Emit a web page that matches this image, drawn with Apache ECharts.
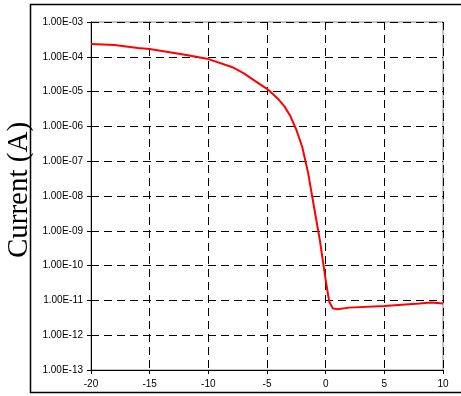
<!DOCTYPE html>
<html>
<head>
<meta charset="utf-8">
<script src="https://cdn.jsdelivr.net/npm/echarts@6/dist/echarts.min.js"></script>
<style>
html,body{margin:0;padding:0;background:#fff;}
#chart{width:461px;height:396px;}
</style>
</head>
<body>
<div id="chart"></div>
<script>
// Data (voltage in V, current in A)
var voltage = [-20, -18, -16, -15, -12, -10, -8, -7, -6, -5, -4, -3.5, -3, -2.5, -2, -1.5, -1, -0.5, 0, 0.3, 0.6, 1, 2, 5, 8, 9, 10];
var current = [2.33e-4, 2.2e-4, 1.8e-4, 1.67e-4, 1.15e-4, 8.6e-5, 5.1e-5, 3.4e-5, 2.0e-5, 1.2e-5, 5.9e-6, 3.7e-6, 1.95e-6, 8e-7, 2.6e-7, 4.7e-8, 5e-9, 5.5e-10, 3.9e-11, 9.3e-12, 5.9e-12, 5.6e-12, 6.2e-12, 6.9e-12, 8.1e-12, 8.7e-12, 8.1e-12];
var xTicks = ['-20', '-15', '-10', '-5', '0', '5', '10'];
var yTickLabels = ['1.00E-13', '1.00E-12', '1.00E-11', '1.00E-10', '1.00E-09', '1.00E-08', '1.00E-07', '1.00E-06', '1.00E-05', '1.00E-04', '1.00E-03'];
var yTitle = 'Current (A)';

var chart = echarts.init(document.getElementById('chart'), null, {renderer: 'canvas'});
var pts = voltage.map(function (v, i) { return [v, current[i]]; });

chart.setOption({
  animation: false,
  backgroundColor: '#fff',
  grid: {left: 91, top: 22, width: 352, height: 348, show: true, borderColor: '#888', borderWidth: 1, backgroundColor: 'transparent'},
  xAxis: {
    type: 'value', min: -20, max: 10, interval: 5,
    axisLine: {show: true, onZero: false, lineStyle: {color: '#000', width: 1}},
    axisTick: {show: true, length: 4, lineStyle: {color: '#000'}},
    axisLabel: {
      margin: 9, color: '#000', fontFamily: 'Liberation Sans, Arial', fontSize: 10,
      formatter: function (v) { var i = Math.round((v + 20) / 5); return xTicks[i] !== undefined ? xTicks[i] : ''; }
    },
    splitLine: {show: true, lineStyle: {color: '#000', type: [8, 5], width: 1}}
  },
  yAxis: {
    type: 'log', logBase: 10, min: 1e-13, max: 1e-3,
    axisLine: {show: true, onZero: false, lineStyle: {color: '#000', width: 1}},
    axisTick: {show: true, length: 4, lineStyle: {color: '#000'}},
    minorTick: {show: false},
    axisLabel: {
      margin: 8, color: '#000', fontFamily: 'Liberation Sans, Arial', fontSize: 10,
      formatter: function (v) { var e = Math.round(Math.log10(v)); var l = yTickLabels[e + 13]; return l !== undefined ? l : ''; }
    },
    splitLine: {show: true, lineStyle: {color: '#000', type: [8, 5], width: 1}}
  },
  graphic: [
    {type: 'rect', shape: {x: 30.5, y: 4.5, width: 460, height: 388}, style: {fill: 'none', stroke: '#000', lineWidth: 1.5}, z: 100},
    {type: 'text', x: 19, y: 190, rotation: Math.PI / 2,
     style: {text: yTitle, font: '29px "Liberation Serif", "Times New Roman", serif', fill: '#000', textAlign: 'center', textVerticalAlign: 'middle'}, z: 90}
  ],
  series: [{
    type: 'line', data: pts, showSymbol: false, symbol: 'none',
    lineStyle: {color: '#ff0000', width: 2}, z: 10
  }]
});
</script>
</body>
</html>
